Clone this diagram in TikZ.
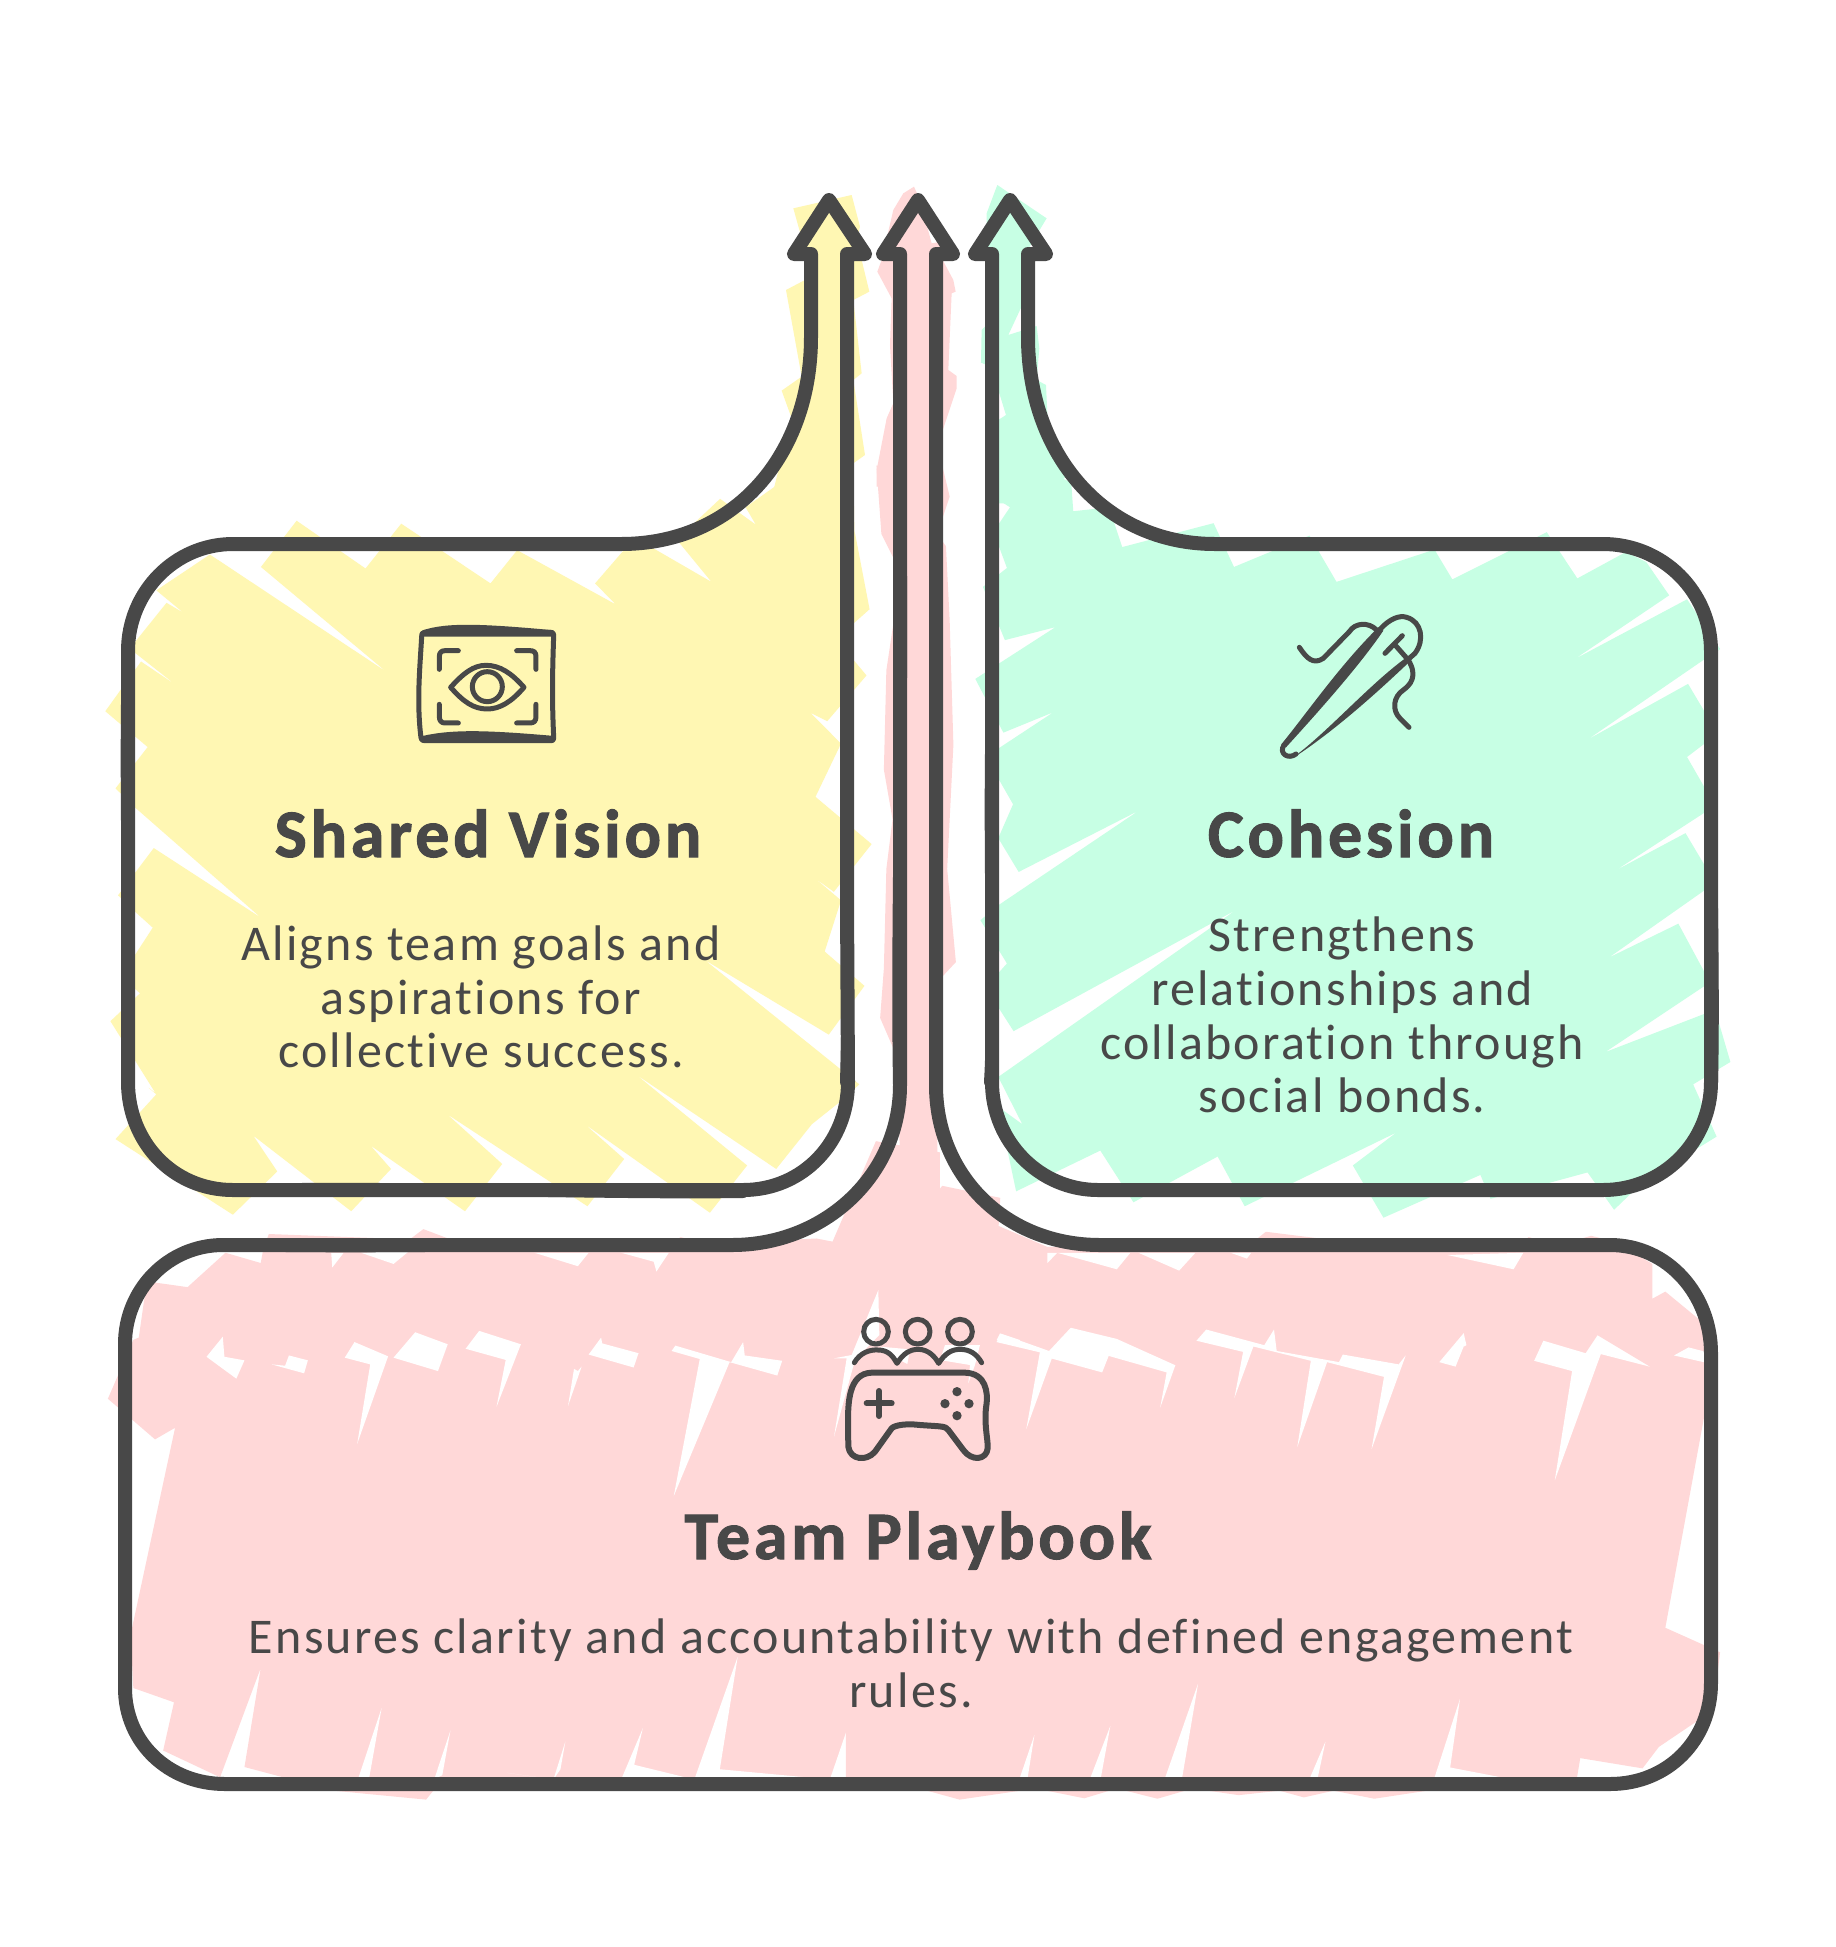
\documentclass[tikz,border=0pt]{standalone}
\usepackage{fontspec}
\setmainfont{Carlito}[Ligatures=NoCommon]
\definecolor{ink}{HTML}{484848}
\definecolor{yfill}{HTML}{FFF7B3}
\definecolor{gfill}{HTML}{C7FFE4}
\definecolor{pfill}{HTML}{FFD8D8}
\tikzset{
  outline/.style={draw=ink,line width=14pt,line join=round,line cap=round},
  wobble/.style={draw=ink,line width=12pt,line cap=round},
  icon/.style={draw=ink,line width=15pt,line cap=round,line join=round},
  titletext/.style={text=ink,font=\addfontfeatures{LetterSpace=5.5,FakeBold=1.5}\fontsize{68}{72}\selectfont\bfseries,inner sep=0pt},
  bodytext/.style={text=ink,font=\addfontfeatures{LetterSpace=4.5}\fontsize{50}{53.7}\selectfont,align=center,inner sep=0pt},
  zfive/.style={shift={(90,460)},x=0.5102pt,y=-0.4975pt},
  zsix/.style={shift={(960,460)},x=0.5102pt,y=-0.4975pt},
  zseven/.style={shift={(90,1130)},x=0.542pt,y=-0.4464pt},
  zeight/.style={shift={(900,1130)},x=0.542pt,y=-0.4464pt},
  zfour/.style={shift={(760,170)},x=0.3333pt,y=-0.3333pt},
  zthumb/.style={x=1.2414pt,y=-1.2414pt},
}
\begin{document}
\begin{tikzpicture}[x=1pt,y=-1pt]
\path[use as bounding box,fill=white] (0,0) rectangle (1836,1947);

% ---------- hachure fills ----------
\begin{scope}[zfive]
\fill[yfill] (85,370)--(150,287)--(183,307)--(130,262)--(235,190)--(580,425)--(335,215)--(405,122)--(540,218)--(610,128)--(785,248)--(850,165)--(835,180)--(1030,290)--(990,248)--(1060,165)--(1100,175)--(1218,245)--(1150,160)--(1235,78)--(1305,130)--(1285,95)--(1340,55)--(1400,0)--(1490,0)--(1465,35)--(1500,150)--(1528,300)--(1495,330)--(1495,400)--(1522,433)--(1445,525)--(1412,508)--(1472,570)--(1422,677)--(1532,772)--(1458,868)--(1420,840)--(1472,885)--(1440,988)--(1518,1057)--(1448,1155)--(1205,1005)--(1508,1255)--(1470,1290)--(1415,1335)--(1345,1425)--(1070,1235)--(1288,1418)--(1215,1513)--(970,1335)--(1047,1405)--(975,1500)--(700,1315)--(808,1415)--(735,1510)--(550,1378)--(590,1425)--(512,1510)--(320,1358)--(367,1430)--(280,1517)--(50,1365)--(130,1275)--(115,1262)--(128,1272)--(40,1128)--(98,1072)--(85,1060)--(85,1000)--(123,940)--(85,905)--(55,875)--(125,780)--(335,920)--(90,700)--(50,660)--(113,577)--(30,505)--(100,405)--(168,452)--(85,385)--cycle;
\end{scope}
\begin{scope}[zfour]
\fill[yfill] (100,115)--(275,75)--(300,170)--(283,240)--(305,270)--(328,365)--(280,390)--(305,610)--(280,630)--(315,855)--(280,880)--(285,1200)--(50,1000)--(42,954)--(95,745)--(65,662)--(125,620)--(78,360)--(135,330)--(135,240)--cycle;
\end{scope}

\begin{scope}[zsix]
\fill[gfill] (75,-20)--(218,45)--(222,103)--(275,97)--(300,120)--(318,175)--(497,127)--(537,215)--(685,152)--(738,245)--(930,180)--(965,240)--(1150,145)--(1210,238)--(1305,185)--(1345,205)--(1390,272)--(1205,400)--(1425,280)--(1490,380)--(1460,400)--(1230,562)--(1427,450)--(1485,550)--(1425,597)--(1480,695)--(1285,825)--(1422,750)--(1480,850)--(1272,1000)--(1408,932)--(1470,1050)--(1265,1190)--(1480,1105)--(1510,1210)--(1437,1255)--(1483,1360)--(1340,1450)--(1282,1507)--(1230,1432)--(1040,1485)--(1020,1437)--(830,1523)--(770,1418)--(855,1352)--(558,1500)--(505,1400)--(340,1492)--(275,1388)--(110,1470)--(75,1300)--(122,1335)--(75,1240)--(540,905)--(105,1148)--(50,1060)--(92,1012)--(40,925)--(75,895)--(350,705)--(115,828)--(75,760)--(104,692)--(75,640)--(75,580)--(183,507)--(85,548)--(30,440)--(75,410)--(187,336)--(88,362)--(45,255)--(92,217)--(75,170)--(75,130)--(98,95)--(75,80)--cycle;
\end{scope}
\begin{scope}[zfour]
\fill[gfill] (712,45)--(860,145)--(800,245)--(822,270)--(822,330)--(745,495)--(830,468)--(838,535)--(830,630)--(858,645)--(865,790)--(950,900)--(800,1000)--(715,1000)--(715,750)--(738,735)--(715,660)--(680,585)--(663,578)--(665,480)--(680,465)--(680,240)--(680,130)--cycle;
\end{scope}

\begin{scope}[zfour]
\fill[pfill] (430,70)--(462,50)--(480,90)--(515,220)--(545,215)--(548,270)--(580,330)--(587,365)--(575,370)--(565,600)--(590,618)--(590,655)--(545,790)--(545,950)--(350,950)--(350,900)--(380,745)--(400,700)--(390,525)--(395,385)--(352,305)--(365,270)--(400,120)--cycle;
\end{scope}
\begin{scope}[zthumb]
\fill[pfill] (706,375)--(710,430)--(720,450)--(720,500)--(714,540)--(712,620)--(719,660)--(714,700)--(712,780)--(709,820)--(722,850)--(725,930)--(755,930)--(756,790)--(770,775)--(763,700)--(768,600)--(765,500)--(762,440)--(755,430)--(765,400)--(759,375)--cycle;
\end{scope}
\begin{scope}[zseven]
\fill[pfill] (1568,50)--(1450,25)--(1370,250)--(1340,243)--(1140,255)--(1090,240)--(1060,258)--(665,245)--(615,222)--(590,245)--(330,233)--(320,265)--(315,298)--(250,275)--(180,352)--(110,340)--(100,380)--(90,465)--(80,470)--(33,602)--(120,693)--(157,667)--(75,1130)--(80,1250)--(155,1282)--(135,1390)--(240,1450)--(315,1205)--(285,1427)--(450,1480)--(620,1500)--(640,1470)--(1568,1470)--cycle;
\fill[white] (538,1295)--(495,1452)--(515,1452)--cycle;
\fill[white] (665,1345)--(635,1455)--(650,1445)--cycle;
\fill[white] (770,1440)--(855,1455)--(877,1370)--(868,1432)--(855,1455)--cycle;
\fill[white] (1020,1340)--(980,1455)--(1115,1455)--(1004,1422)--cycle;
\fill[white] (1195,1180)--(1115,1455)--(1365,1455)--(1162,1432)--cycle;
\fill[white] (1430,1225)--(1365,1455)--(1568,1470)--(1405,1430)--cycle;
\fill[white] (445,275)--(447,308)--(468,275)--cycle;
\fill[white] (500,275)--(560,300)--(590,270)--cycle;
\fill[white] (820,275)--(900,305)--(920,275)--cycle;
\fill[white] (980,275)--(1040,295)--(1045,317)--(1068,275)--cycle;
\fill[white] (245,463)--(215,508)--(270,557)--(285,516)--(248,508)--cycle;
\fill[white] (335,525)--(395,545)--(402,516)--(367,505)--(360,528)--cycle;
\fill[white] (488,475)--(470,510)--(517,525)--(493,703)--(550,507)--cycle;
\fill[white] (600,453)--(560,510)--(642,540)--(660,480)--cycle;
\fill[white] (718,450)--(693,490)--(767,515)--(750,620)--(795,480)--cycle;
\fill[white] (943,465)--(920,503)--(1003,532)--(1012,500)--(945,478)--cycle;
\fill[white] (893,535)--(882,618)--(907,530)--(900,540)--cycle;
\fill[white] (1080,483)--(1073,495)--(1125,513)--(1077,820)--(1180,520)--(1268,550)--(1277,517)--(1208,505)--(1205,475)--(1183,520)--cycle;
\end{scope}
\begin{scope}[zeight]
\fill[pfill] (-30,30)--(68,48)--(68,140)--(78,125)--(185,152)--(182,215)--(272,262)--(640,262)--(675,228)--(900,262)--(1130,262)--(1160,240)--(1215,258)--(1275,237)--(1320,250)--(1388,300)--(1388,378)--(1412,362)--(1480,430)--(1490,600)--(1412,1115)--(1513,1170)--(1500,1300)--(1400,1382)--(1370,1430)--(1255,1407)--(1245,1480)--(1000,1475)--(875,1498)--(800,1480)--(745,1495)--(700,1480)--(625,1490)--(540,1475)--(475,1498)--(400,1475)--(340,1497)--(250,1475)--(110,1500)--(50,1480)--(-100,1480)--(-100,800)--(-30,800)--cycle;
\fill[white] (187,457)--(178,475)--(258,498)--(233,670)--(280,512)--(373,543)--(385,506)--(492,543)--(480,622)--(508,527)--(400,468)--(315,443)--(275,495)--cycle;
\fill[white] (565,447)--(547,472)--(633,497)--(617,600)--(652,485)--(758,517)--(733,710)--(788,520)--(893,553)--(870,715)--(933,505)--(920,525)--(817,503)--(810,520)--(695,495)--(690,447)--(672,482)--cycle;
\fill[white] (1040,455)--(995,520)--(1025,530)--(1040,485)--(1045,482)--cycle;
\fill[white] (1187,472)--(1170,517)--(1240,540)--(1208,785)--(1293,502)--(1383,530)--(1287,460)--(1265,500)--cycle;
\fill[white] (1455,487)--(1428,505)--(1490,522)--(1490,498)--cycle;
\fill[white] (272,275)--(272,298)--(290,275)--cycle;
\fill[white] (290,275)--(400,312)--(425,275)--cycle;
\fill[white] (440,275)--(515,315)--(545,275)--cycle;
\fill[white] (610,275)--(640,288)--(648,275)--cycle;
\fill[white] (1010,280)--(1132,312)--(1150,275)--cycle;
\fill[white] (550,1240)--(488,1455)--(520,1455)--cycle;
\fill[white] (248,1355)--(220,1455)--(235,1455)--cycle;
\fill[white] (388,1335)--(350,1455)--(370,1455)--cycle;
\fill[white] (785,1370)--(755,1455)--(770,1455)--cycle;
\fill[white] (1033,1275)--(985,1455)--(1130,1455)--(1015,1428)--cycle;
\end{scope}
\begin{scope}[shift={(820,1290)},x=0.3333pt,y=-0.3333pt]
\fill[white] (175,0)--(95,195)--(42,205)--(80,205)--(42,440)--(105,210)--(178,135)--cycle;
\fill[white] (180,170)--(270,178)--(262,222)--(230,205)--cycle;
\fill[white] (375,165)--(480,165)--(465,225)--(445,280)--(450,225)--(360,210)--cycle;
\fill[white] (530,150)--(540,130)--(600,150)--(600,172)--cycle;
\end{scope}

% ---------- outlines ----------
\draw[outline] (811,254)--(794,254)--(829,200)--(865,254)--(847,254)--(847,900)--(848,1082)
  .. controls (848,1142) and (803,1190) .. (743,1190) -- (233,1190)
  .. controls (173,1190) and (128,1142) .. (128,1082) -- (128,651)
  .. controls (128,592) and (175,544) .. (233,544) -- (621,544)
  .. controls (735,544) and (811,455) .. (811,337) -- cycle;
\draw[wobble] (233,544) .. controls (350,541) and (500,547) .. (621,544);
\draw[wobble] (233,1190) .. controls (400,1186) and (600,1194) .. (743,1192);
\draw[wobble] (847,500) .. controls (844,700) and (851,900) .. (846,1082);
\draw[wobble] (128,651) .. controls (124,800) and (131,950) .. (127,1082);
\draw[outline] (1028,254)--(1046,254)--(1010,200)--(975,254)--(992,254)--(992,1082)
  .. controls (992,1142) and (1040,1190) .. (1098,1190) -- (1603,1190)
  .. controls (1663,1190) and (1711,1142) .. (1711,1082) -- (1711,651)
  .. controls (1711,592) and (1663,544) .. (1603,544) -- (1215,544)
  .. controls (1105,544) and (1028,455) .. (1028,337) -- cycle;
\draw[wobble] (992,700) .. controls (988,850) and (995,1000) .. (990,1082);
\draw[wobble] (1711,651) .. controls (1708,800) and (1715,950) .. (1712,1082);
\draw[wobble] (1215,544) .. controls (1350,541) and (1500,547) .. (1603,544);
\draw[outline] (900,254)--(883,254)--(918,200)--(953,254)--(936,254)--(936,1085)
  .. controls (936,1175) and (1005,1245) .. (1100,1245) -- (1610,1245)
  .. controls (1668,1245) and (1711,1295) .. (1711,1353) -- (1711,1683)
  .. controls (1711,1740) and (1668,1784) .. (1610,1784) -- (225,1784)
  .. controls (168,1784) and (125,1742) .. (125,1688) -- (125,1344)
  .. controls (125,1290) and (168,1245) .. (223,1245) -- (732,1245)
  .. controls (825,1245) and (900,1175) .. (900,1085) -- cycle;
\draw[wobble] (900,500) .. controls (904,700) and (896,900) .. (899,1085);
\draw[wobble] (223,1245) .. controls (400,1249) and (600,1242) .. (732,1245);
\draw[wobble] (225,1784) .. controls (600,1781) and (1200,1787) .. (1610,1784);
\draw[wobble] (125,1344) .. controls (122,1450) and (128,1600) .. (125,1688);
\draw[wobble] (1711,1353) .. controls (1708,1500) and (1714,1600) .. (1711,1683);

% ---------- icons ----------
\begin{scope}[shift={(380,600)},x=0.3333pt,y=-0.3333pt,line width=5pt]
\path[draw=ink,fill=ink,line join=round,line width=3pt] (130,95) .. controls (200,72) and (300,75) .. (518,95) -- (518,105) .. controls (400,105) and (250,105) .. (130,105) -- cycle;
\path[draw=ink,fill=ink,line join=round,line width=3pt] (130,412) .. controls (220,392) and (320,395) .. (518,412) -- (518,424) -- (130,424) -- cycle;
\draw[icon,line width=5pt] (135,97) -- (510,97) .. controls (520,97) and (521,100) .. (521,110) .. controls (516,250) and (517,320) .. (521,410) .. controls (521,420) and (520,422) .. (510,422) -- (135,422) .. controls (125,422) and (123,418) .. (122,405) .. controls (110,300) and (120,200) .. (125,110) .. controls (125,100) and (128,97) .. (135,97) -- cycle;
\draw[icon,line width=5pt] (178,208) -- (178,170) .. controls (178,157) and (185,152) .. (195,152) -- (235,152);
\draw[icon,line width=5pt] (410,152) -- (450,152) .. controls (462,152) and (468,157) .. (468,170) -- (468,208);
\draw[icon,line width=5pt] (178,313) -- (178,350) .. controls (178,363) and (185,369) .. (195,369) -- (235,369);
\draw[icon,line width=5pt] (410,369) -- (450,369) .. controls (462,369) and (468,363) .. (468,350) -- (468,313);
\draw[icon,line width=5pt] (212,262) .. controls (250,220) and (280,196) .. (318,196) .. controls (360,196) and (395,220) .. (432,262) .. controls (395,305) and (360,327) .. (322,327) .. controls (280,327) and (250,305) .. (212,262) -- cycle;
\draw[icon,line width=5pt] (322,260) circle [x radius=45,y radius=45];
\end{scope}

\begin{scope}[shift={(1240,590)},x=0.3333pt,y=-0.3333pt]
\fill[ink] (124,463) .. controls (200,370) and (300,225) .. (415,112) -- (430,122) .. controls (360,225) and (240,360) .. (138,472) -- cycle;
\fill[ink] (162,500) .. controls (260,430) and (400,270) .. (510,195) -- (512,212) .. controls (430,290) and (300,410) .. (170,497) -- cycle;
\draw[icon,line width=5pt] (132,465) .. controls (115,490) and (145,510) .. (168,492);
\draw[icon,line width=5pt] (420,118) .. controls (450,85) and (480,75) .. (500,82) .. controls (545,95) and (555,150) .. (525,190) -- (508,205);
\draw[icon,line width=5pt] (435,190) -- (487,137);
\draw[icon,line width=5pt] (468,168) -- (505,210) .. controls (535,260) and (510,285) .. (490,300) .. controls (460,320) and (455,360) .. (480,385) -- (507,412);
\draw[icon,line width=5pt] (178,172) .. controls (200,205) and (220,225) .. (250,205) -- (328,125) .. controls (345,98) and (385,95) .. (410,120);
\end{scope}

\begin{scope}[shift={(820,1290)},x=0.3333pt,y=-0.3333pt]
\draw[icon,line width=5pt] (168,125) circle [x radius=37,y radius=37];
\draw[icon,line width=5pt] (293,125) circle [x radius=37,y radius=37];
\draw[icon,line width=5pt] (420,125) circle [x radius=37,y radius=37];
\draw[icon,line width=5pt] (103,218) .. controls (120,188) and (150,178) .. (175,180) .. controls (205,180) and (220,200) .. (231,220) .. controls (250,190) and (270,178) .. (295,178) .. controls (325,178) and (345,200) .. (356,220) .. controls (375,190) and (395,178) .. (420,178) .. controls (450,178) and (470,192) .. (485,218);
\draw[icon,line width=6pt] (84,400) .. controls (84,340) and (85,250) .. (155,248) -- (435,248) .. controls (500,250) and (503,310) .. (500,340) .. controls (490,400) and (505,450) .. (503,475) .. controls (500,510) and (455,515) .. (430,480) -- (385,420) .. controls (375,408) and (370,410) .. (300,405) .. controls (260,400) and (225,405) .. (215,415) -- (165,485) .. controls (140,515) and (90,510) .. (85,470) -- cycle;
\draw[icon,line width=6pt] (177,303) -- (177,378);
\draw[icon,line width=6pt] (140,340) -- (215,340);
\fill[ink] (411,305) circle [x radius=14,y radius=14];
\fill[ink] (375,341) circle [x radius=14,y radius=14];
\fill[ink] (447,341) circle [x radius=14,y radius=14];
\fill[ink] (411,377) circle [x radius=14,y radius=14];
\end{scope}

% ---------- text ----------
\node[titletext,anchor=base] (t1) at (488,857) {Shared Vision};
\node[bodytext] (b1) at (481,997) {Aligns team goals and\\aspirations for\\collective success.};
\node[titletext,anchor=base] (t2) at (1351,857) {Cohesion};
\node[bodytext] (b2) at (1342,1015) {Strengthens\\relationships and\\collaboration through\\social bonds.};
\node[titletext,anchor=base] (t3) at (918,1559) {Team Playbook};
\node[bodytext] (b3) at (911,1663) {Ensures clarity and accountability with defined engagement\\rules.};
\end{tikzpicture}
\end{document}
